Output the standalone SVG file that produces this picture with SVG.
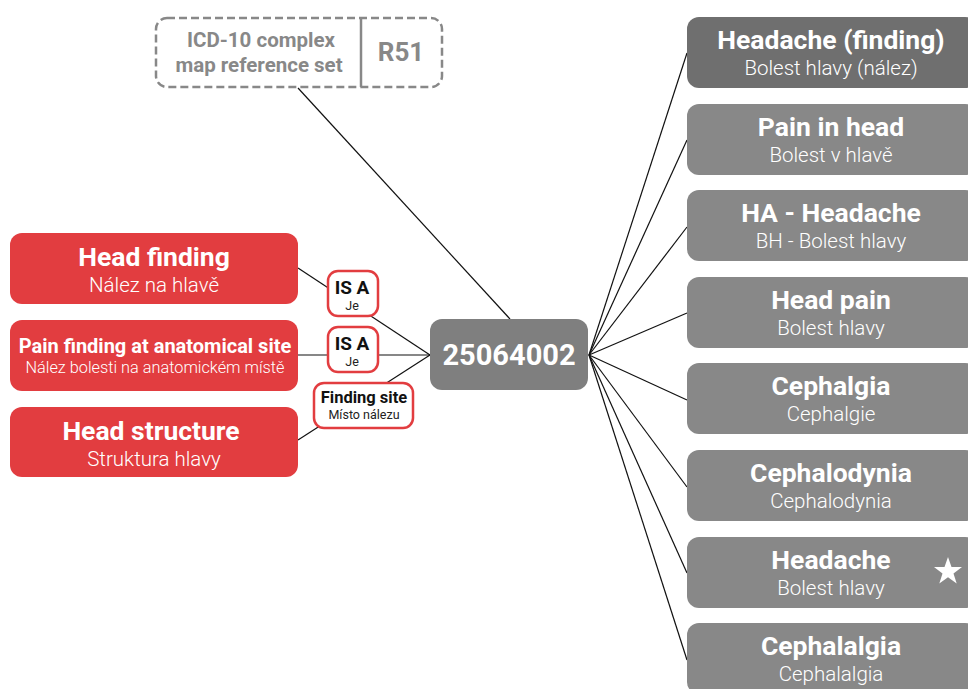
<svg xmlns="http://www.w3.org/2000/svg" width="968" height="689" viewBox="0 0 968 689">
<style>
text{font-family:Roboto,"Liberation Sans",sans-serif;text-anchor:middle}
.t{font-weight:700;fill:#fff}
.s{font-weight:300;fill:#fff}
.red{fill:#e23d40}
.gray{fill:#888888}
.lab{fill:#fff;stroke:#e23d40;stroke-width:2.5}
.lt{font-weight:700;fill:#111}
.ls{font-weight:400;fill:#222}
.conn line{stroke:#111;stroke-width:1.2}
</style>
<g class="conn" id="connectors">
<line x1="298" y1="88" x2="510" y2="319"/>
<line x1="298" y1="268" x2="430" y2="355"/>
<line x1="298" y1="355" x2="430" y2="355"/>
<line x1="298" y1="440" x2="430" y2="355"/>
<line x1="589" y1="355" x2="687" y2="53"/>
<line x1="589" y1="355" x2="687" y2="140"/>
<line x1="589" y1="355" x2="687" y2="227"/>
<line x1="589" y1="355" x2="687" y2="313"/>
<line x1="589" y1="355" x2="687" y2="400"/>
<line x1="589" y1="355" x2="687" y2="487"/>
<line x1="589" y1="355" x2="687" y2="573"/>
<line x1="589" y1="355" x2="687" y2="660"/>
</g>
<g id="refset">
<rect x="156" y="18" width="286" height="69" rx="11" fill="#fff" stroke="#888" stroke-width="2.5" stroke-dasharray="8,4"/>
<line x1="361" y1="18" x2="361" y2="87" stroke="#888" stroke-width="2.5"/>
<text x="261" y="47" font-size="20.5" font-weight="700" fill="#888">ICD-10 complex</text>
<text x="259" y="72" font-size="20.5" font-weight="700" fill="#888">map reference set</text>
<text x="401" y="61" font-size="26" font-weight="700" fill="#888">R51</text>
</g>
<g id="head-finding">
<rect class="red" x="10" y="233" width="288" height="71" rx="12"/>
<text class="t" x="154" y="266" font-size="26.5">Head finding</text>
<text class="s" x="154" y="292" font-size="20.5">Nález na hlavě</text>
</g>
<g id="pain-finding">
<rect class="red" x="10" y="320" width="288" height="71" rx="12"/>
<text class="t" x="155" y="353" font-size="20">Pain finding at anatomical site</text>
<text class="s" x="155" y="373" font-size="16.3">Nález bolesti na anatomickém místě</text>
</g>
<g id="head-structure">
<rect class="red" x="10" y="407" width="288" height="70" rx="12"/>
<text class="t" x="151" y="440" font-size="26.5">Head structure</text>
<text class="s" x="154" y="466" font-size="20.5">Struktura hlavy</text>
</g>
<g id="label-isa-1">
<rect class="lab" x="328" y="271" width="50" height="45" rx="10"/>
<text class="lt" x="352" y="294" font-size="19">IS A</text>
<text class="ls" x="352" y="310" font-size="12.5">Je</text>
</g>
<g id="label-isa-2">
<rect class="lab" x="328" y="327" width="50" height="45" rx="10"/>
<text class="lt" x="352" y="350" font-size="19">IS A</text>
<text class="ls" x="352" y="366" font-size="12.5">Je</text>
</g>
<g id="label-finding-site">
<rect class="lab" x="314" y="383" width="99" height="45" rx="10"/>
<text class="lt" x="364" y="403" font-size="16.5">Finding site</text>
<text class="ls" x="364" y="419" font-size="12.5">Místo nálezu</text>
</g>
<g id="concept">
<rect x="430" y="319" width="158" height="71" rx="12" fill="#7f7f7f"/>
<text class="t" x="509" y="365" font-size="29">25064002</text>
</g>
<g id="d1">
<rect x="687" y="17" width="290" height="71" rx="12" fill="#6f6f6f"/>
<text class="t" x="831" y="49" font-size="26.5">Headache (finding)</text>
<text class="s" x="831" y="75" font-size="20.5">Bolest hlavy (nález)</text>
</g>
<g id="d2">
<rect class="gray" x="687" y="104" width="290" height="71" rx="12"/>
<text class="t" x="831" y="136" font-size="26.5">Pain in head</text>
<text class="s" x="831" y="162" font-size="20.5">Bolest v hlavě</text>
</g>
<g id="d3">
<rect class="gray" x="687" y="190" width="290" height="71" rx="12"/>
<text class="t" x="831" y="222" font-size="26.5">HA - Headache</text>
<text class="s" x="831" y="248" font-size="20.5">BH - Bolest hlavy</text>
</g>
<g id="d4">
<rect class="gray" x="687" y="277" width="290" height="71" rx="12"/>
<text class="t" x="831" y="309" font-size="26.5">Head pain</text>
<text class="s" x="831" y="335" font-size="20.5">Bolest hlavy</text>
</g>
<g id="d5">
<rect class="gray" x="687" y="363" width="290" height="71" rx="12"/>
<text class="t" x="831" y="395" font-size="26.5">Cephalgia</text>
<text class="s" x="831" y="421" font-size="20.5">Cephalgie</text>
</g>
<g id="d6">
<rect class="gray" x="687" y="450" width="290" height="71" rx="12"/>
<text class="t" x="831" y="482" font-size="26.5">Cephalodynia</text>
<text class="s" x="831" y="508" font-size="20.5">Cephalodynia</text>
</g>
<g id="d7">
<rect class="gray" x="687" y="537" width="290" height="71" rx="12"/>
<text class="t" x="831" y="569" font-size="26.5">Headache</text>
<text class="s" x="831" y="595" font-size="20.5">Bolest hlavy</text>
<polygon fill="#fff" points="948,557 951.5,567 962,567 953.5,573.5 956.7,583.5 948,577.3 939.3,583.5 942.5,573.5 934,567 944.5,567"/>
</g>
<g id="d8">
<rect class="gray" x="687" y="623" width="290" height="71" rx="12"/>
<text class="t" x="831" y="655" font-size="26.5">Cephalalgia</text>
<text class="s" x="831" y="681" font-size="20.5">Cephalalgia</text>
</g>
</svg>
